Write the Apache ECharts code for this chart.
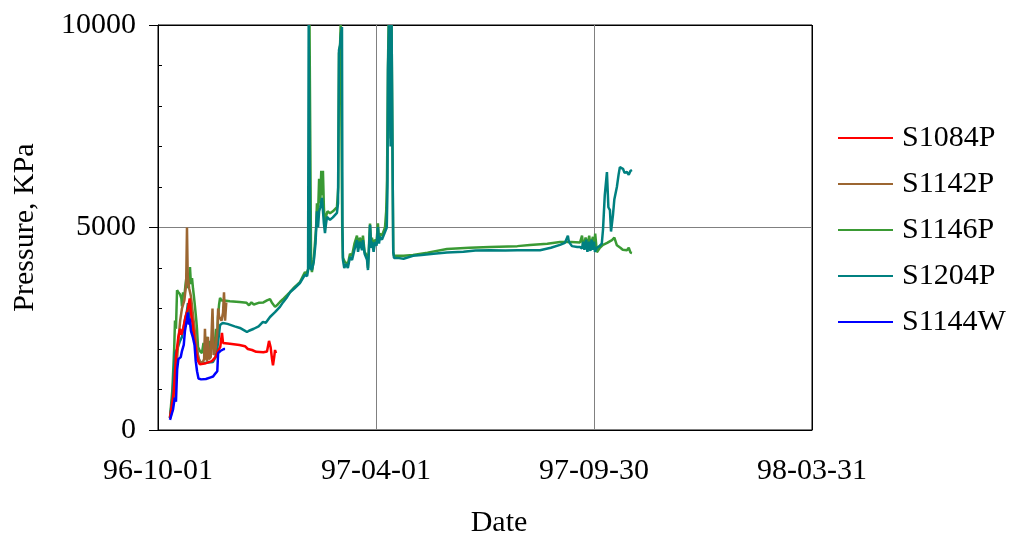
<!DOCTYPE html>
<html>
<head>
<meta charset="utf-8">
<script src="https://cdn.jsdelivr.net/npm/echarts@6/dist/echarts.min.js"></script>
<style>html,body{margin:0;padding:0;background:#fff}#c{width:1015px;height:534px}</style>
</head>
<body>
<div id="c"></div>
<script>
// x values: days since 1996-10-01 ; y values: pressure in kPa
const xTickLabels = ['96-10-01', '97-04-01', '97-09-30', '98-03-31'];
const yTickLabels = ['0', '5000', '10000'];
const seriesNames = ['S1084P', 'S1142P', 'S1146P', 'S1204P', 'S1144W'];

const s1084p = [[10,300],[13,900],[15,1800],[17,2300],[18.5,2500],[19.5,2350],[21,2500],[23,2800],[25,3000],[26.5,3250],[27.5,2900],[29,2600],[30.5,2200],[32,1900],[33.5,1700],[35,1620],[40,1650],[45,1700],[48,1800],[50,1950],[52,2050],[53.4,2400],[54.3,2150],[60,2130],[68,2100],[72.6,2070],[75,2000],[78.5,1975],[82,1930],[88,1920],[91,1940],[92.7,2200],[94,2050],[95.2,1750],[96,1600],[97,1800],[97.7,1975],[98.5,1900]];

const s1142p = [[10,280],[12,500],[14,1000],[16,1800],[17,2200],[18.5,2700],[20,3000],[22,3200],[23.5,3600],[24.2,5000],[24.8,3800],[26,3500],[27.5,3300],[29,2900],[30.5,2500],[32,2100],[33.5,1800],[35,1700],[37,1650],[38.5,1750],[39.2,2500],[40,1800],[41,1700],[41.7,2300],[42.5,1750],[44,1800],[45.5,3000],[46.5,1850],[48,2000],[49.5,2400],[50.2,3000],[51,2800],[53,2700],[54.3,2900],[55.1,3400],[56,2700],[57,3150]];

const s1146p = [[10,300],[12,1000],[13.5,2000],[14.2,2700],[15,2500],[15.9,3450],[17,3400],[18.4,3350],[19.5,3250],[20,3050],[20.9,3400],[22,3300],[23,3600],[24.2,3880],[25,3500],[25.8,3700],[26.7,4020],[27.5,3600],[28.4,3750],[29.2,3500],[30,3300],[30.9,3040],[32,2700],[32.6,2470],[33.4,2050],[35,1950],[36.7,1900],[38,2150],[39,1850],[40.5,2300],[41.5,1900],[43,2200],[44,1950],[45.5,2350],[47,2000],[48.5,2500],[49.5,2100],[50.1,2790],[51,3100],[51.8,3260],[53,3200],[55,3200],[60,3180],[68,3160],[74,3140],[76,3080],[78,3150],[80,3100],[84,3140],[88,3150],[91,3200],[93.5,3230],[95,3150],[97.7,3040],[100,3100],[101.8,3160],[105,3250],[107.7,3330],[110,3400],[113,3500],[116,3580],[118.5,3650],[121,3800],[122.7,3900],[124,3850],[125,3950],[126,4000],[126.5,10000],[127.2,10000],[127.8,4100],[128.5,3900],[130,4200],[132,5000],[132.7,5600],[133.6,5300],[134.5,6200],[135.5,5600],[136.3,6400],[137,5800],[137.7,6400],[138.5,5500],[139.4,5000],[140.5,5300],[141.5,5400],[143.6,5350],[146,5400],[149.4,5500],[150.5,6000],[151.1,9300],[152,9500],[152.5,10000],[153.2,10000],[153.8,5000],[154.4,4250],[156,4150],[158.5,4100],[160.3,4350],[162,4300],[164,4600],[166.1,4800],[167,4500],[168.5,4750],[170.3,4550],[171.1,4800],[172.5,4400],[174.5,4300],[175.3,4000],[176.2,4600],[177,5100],[178,4600],[178.6,4750],[180,4500],[181.1,4700],[182.5,4650],[183.6,5100],[184.5,4700],[185.3,4850],[187,4800],[189.5,5000],[190.5,5400],[191.2,6170],[192,9000],[192.5,10000],[193.5,10000],[194.2,7200],[195,10000],[195.8,10000],[196.4,4400],[197,4300],[205,4300],[212.9,4320],[225,4380],[241.2,4470],[260,4500],[277.1,4520],[300,4540],[310.5,4570],[325,4600],[335.6,4640],[345,4640],[352.3,4630],[354,4800],[355,4500],[357,4750],[358.5,4550],[360,4800],[361,4550],[363.1,4770],[364,4500],[365,4850],[366.4,4390],[368.9,4500],[371.5,4570],[375,4620],[379,4690],[381,4750],[383.1,4560],[386,4500],[388,4450],[391.5,4440],[393,4500],[394.5,4380],[395.7,4370]];

const s1204p = [[10,300],[12,800],[14.2,1900],[16,2000],[18.4,2200],[20,2300],[21.5,2550],[22.5,2720],[24,2900],[25,3130],[26,2900],[26.7,2640],[28,2500],[29.2,2390],[31,2200],[32.6,1975],[34,1750],[35.1,1650],[40,1660],[45.9,1680],[48,1800],[49.2,1950],[50.1,2150],[51.8,2590],[54,2640],[58,2620],[64,2560],[68.4,2520],[72,2460],[74.3,2420],[76,2450],[80,2500],[84,2560],[87.6,2670],[90,2650],[93.5,2790],[95,2750],[97.7,2910],[101.8,3040],[104.3,3150],[107.7,3280],[110.2,3400],[114,3500],[118.5,3630],[121,3750],[122.7,3830],[124.5,3800],[125.3,3950],[125.8,10000],[126.6,10000],[127.2,4000],[128.5,3950],[130,4150],[131.5,4600],[132.7,5400],[133.6,5000],[134.5,5400],[135.5,5500],[136.9,5730],[137.7,5700],[138.5,5100],[139.4,4860],[140.3,5100],[141.1,5260],[143.6,5190],[146,5250],[149.4,5360],[150.3,5600],[151.1,9380],[152,9500],[152.8,9800],[153.6,9950],[154,5000],[154.4,4200],[155.5,4000],[157,4100],[158.5,4000],[160.3,4270],[162,4200],[164,4450],[166.1,4690],[167,4400],[168.5,4650],[170.3,4440],[171.1,4690],[172.5,4350],[174.5,4200],[175.3,3950],[176.2,4500],[177,5060],[178,4500],[178.6,4650],[180,4400],[181.1,4640],[182.5,4550],[183.6,5010],[184.5,4600],[185.3,4770],[187,4700],[189.5,4890],[191,5000],[191.6,6000],[192,8890],[192.8,10000],[193.6,10000],[194.2,7000],[195,10000],[195.8,10000],[196.4,4400],[197,4250],[200,4250],[205,4230],[212.9,4300],[220,4320],[230,4350],[241.2,4380],[255,4400],[265,4430],[277.1,4440],[290,4430],[300,4440],[318.9,4440],[328,4500],[335.6,4570],[339.7,4620],[341,4650],[342.2,4800],[343,4650],[345.6,4540],[350,4520],[352.3,4520],[354,4480],[355,4650],[356,4450],[357.5,4700],[358.5,4400],[360,4650],[361,4420],[362,4700],[363.1,4450],[364,4650],[364.8,4400],[366.4,4500],[368.9,4550],[370.5,4600],[371.5,4940],[373,5800],[374.8,6370],[376,5500],[377.3,5430],[378.2,4900],[379,4860],[379.8,5300],[381,5700],[383.1,6000],[384.5,6300],[385.6,6490],[386.5,6450],[388.2,6450],[389.5,6350],[391.5,6370],[393,6300],[394.5,6400],[395.7,6420]];

const s1144w = [[10,250],[11,280],[12.5,500],[14,800],[15,700],[16,1500],[17,1750],[19,1800],[20,1950],[21.5,2100],[22.5,2450],[24,2700],[25,2900],[25.8,2600],[26.5,2750],[27.5,2450],[29,2300],[30.5,2100],[31.5,1700],[32.6,1450],[33.8,1270],[36,1250],[40,1260],[44,1300],[46,1320],[48,1400],[49.5,1450],[50.2,1900],[52,1950],[55,2000],[56,2000]];

const seriesData = [s1084p, s1142p, s1146p, s1204p, s1144w];
const seriesColors = ['#ff0000', '#9c6631', '#3a9a34', '#008080', '#0000ff'];
const seriesZ = [5, 4, 2, 3, 6];

const FONT = "'Liberation Serif','Times New Roman',serif";
const chart = echarts.init(document.getElementById('c'), null, {renderer: 'canvas'});
chart.setOption({
  animation: false,
  backgroundColor: '#fff',
  grid: {left: 158, right: 203, top: 25, bottom: 104, show: true, borderColor: '#000', borderWidth: 1,
    containLabel: false, outerBoundsMode: 'none'},
  legend: {
    data: seriesNames,
    orient: 'vertical',
    left: 833, top: 118,
    icon: 'rect', itemWidth: 55, itemHeight: 2, itemGap: 16,
    textStyle: {fontFamily: FONT, fontSize: 30, color: '#000', lineHeight: 30, padding: [0, 0, 0, 4]}
  },
  xAxis: {
    type: 'value', min: 0, max: 546, interval: 182,
    name: 'Date', nameLocation: 'middle', nameGap: 78,
    nameTextStyle: {fontFamily: FONT, fontSize: 30, color: '#000', padding: [0, 0, 0, 28]},
    axisLine: {lineStyle: {color: '#000', width: 1}},
    axisTick: {show: false},
    axisLabel: {fontFamily: FONT, fontSize: 30, color: '#000', margin: 26,
      formatter: v => xTickLabels[Math.round(v / 182)]},
    splitLine: {show: true, lineStyle: {color: ['#000', '#808080', '#808080', '#000'], width: 1}}
  },
  yAxis: [{
    type: 'value', min: 0, max: 10000, interval: 5000,
    name: 'Pressure, KPa', nameLocation: 'middle', nameGap: 118, nameRotate: 90,
    nameTextStyle: {fontFamily: FONT, fontSize: 30, color: '#000'},
    axisLine: {show: true, lineStyle: {color: '#000', width: 1}},
    axisTick: {show: true, length: 9, lineStyle: {color: '#000'}},
    axisLabel: {fontFamily: FONT, fontSize: 30, color: '#000', margin: 22,
      formatter: v => yTickLabels[Math.round(v / 5000)]},
    splitLine: {show: true, lineStyle: {color: ['#000', '#808080', '#000'], width: 1}}
  }, {
    type: 'value', min: 0, max: 10000, interval: 5000, position: 'left',
    axisLine: {show: false},
    axisTick: {show: false, inside: true},
    minorTick: {show: true, splitNumber: 5, length: 4, lineStyle: {color: '#000'}},
    axisLabel: {show: false},
    splitLine: {show: false}
  }],
  series: seriesNames.map((n, i) => ({
    name: n, type: 'line', data: seriesData[i], showSymbol: false, symbol: 'none',
    z: seriesZ[i], color: seriesColors[i],
    lineStyle: {width: 2.5, color: seriesColors[i]}
  }))
});
</script>
</body>
</html>
